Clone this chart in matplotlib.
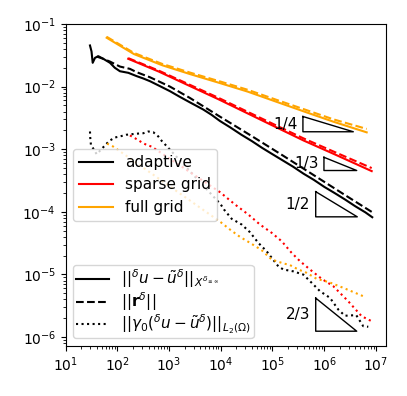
import matplotlib
matplotlib.use('Agg')
import matplotlib.pyplot as plt
from matplotlib.lines import Line2D

# adaptive (black)
n_adaptive = [29.5, 31.6, 33.3, 36.9, 42.8, 53.3, 71.9, 89.1, 112, 163, 236, 316, 427, 661,
              1040, 1585, 2512, 4571, 6607, 9661, 15140, 25120, 39810, 63100, 1.0e5,
              1.585e5, 2.512e5, 3.981e5, 6.31e5, 1.0e6, 1.585e6, 2.512e6, 3.98e6, 6.31e6, 8.51e6]
err_adaptive = [0.0454, 0.0364, 0.0240, 0.0288, 0.0306, 0.0278, 0.0240, 0.0200, 0.0176, 0.0166,
                0.0147, 0.0135, 0.0122, 0.0102, 0.00845, 0.00692, 0.00562, 0.00431, 0.00355,
                0.00282, 0.00224, 0.00170, 0.00135, 0.00105, 8.32e-4, 6.61e-4, 5.25e-4,
                4.07e-4, 3.24e-4, 2.51e-4, 2.00e-4, 1.58e-4, 1.23e-4, 9.77e-5, 8.20e-5]

n_adaptive_res = [39.8, 53.3, 71.9, 112, 175, 236, 427, 1040, 2512, 9661, 3.98e4, 1.585e5,
                  3.98e5, 1.0e6, 2.512e6, 8.51e6]
res_adaptive = [0.0302, 0.0278, 0.0251, 0.0209, 0.0192, 0.0170, 0.0141, 0.0100, 0.00661,
                0.00331, 0.00162, 7.94e-4, 4.90e-4, 3.02e-4, 1.86e-4, 9.86e-5]

n_adaptive_gam = [29.5, 29.9, 30.8, 39.8, 57.5, 69.7, 89.9, 112, 147, 234, 317, 396, 494, 618,
                  719, 871, 1995, 4467, 1.0e4, 1.153e4, 1.626e4, 2.535e4, 3.673e4, 5.309e4,
                  7.727e4, 1.294e5, 1.618e5, 2.529e5, 3.945e5, 5.728e5, 8.299e5, 1.294e6,
                  1.875e6, 2.512e6, 4.169e6, 5.70e6, 7.13e6]
gam_adaptive = [1.92e-3, 1.50e-3, 1.17e-3, 8.32e-4, 1.15e-3, 1.36e-3, 1.54e-3, 1.60e-3, 1.70e-3,
                1.77e-3, 1.80e-3, 1.92e-3, 1.87e-3, 1.60e-3, 1.36e-3, 1.15e-3, 5.50e-4, 2.69e-4,
                1.31e-4, 1.09e-4, 7.73e-5, 6.27e-5, 4.72e-5, 3.20e-5, 2.34e-5, 1.35e-5, 1.20e-5,
                1.12e-5, 9.95e-6, 7.35e-6, 5.40e-6, 4.23e-6, 2.75e-6, 2.19e-6, 2.24e-6, 1.49e-6,
                1.46e-6]

# sparse grid (red)
n_sparse = [162, 631, 2512, 8913, 31600, 1.12e5, 3.98e5, 1.58e6, 8.3e6]
err_sparse = [0.0278, 0.0174, 0.01023, 0.00631, 0.00380, 0.00229, 0.00138, 8.32e-4, 4.47e-4]
res_sparse = [0.0285, 0.0180, 0.0107, 0.00665, 0.00403, 0.00245, 0.00149, 9.05e-4, 5.00e-4]

n_sparse_gam = [175, 219, 295, 368, 460, 3162, 6166, 9661, 1.884e4, 3.404e4, 5.728e4, 9.66e4,
                1.507e5, 2.35e5, 3.404e5, 5.31e5, 8.95e5, 1.50e6, 2.92e6, 5.31e6, 8.30e6]
gam_sparse = [1.66e-3, 1.50e-3, 1.29e-3, 1.17e-3, 1.10e-3, 3.81e-4, 2.64e-4, 2.06e-4, 1.31e-4,
              9.06e-5, 6.27e-5, 4.62e-5, 3.39e-5, 2.21e-5, 1.63e-5, 1.20e-5, 8.51e-6, 6.49e-6,
              3.73e-6, 2.15e-6, 1.79e-6]

# full grid (orange)
n_full = [62, 209, 741, 2570, 9330, 33100, 117500, 417000, 1.51e6, 6.64e6]
err_full = [0.0603, 0.0331, 0.0219, 0.0158, 0.01148, 0.00832, 0.00575, 0.00398, 0.00275, 0.00186]
res_full = [0.0625, 0.0345, 0.0230, 0.0167, 0.0122, 0.00890, 0.00618, 0.00432, 0.00300, 0.00211]

n_full_gam = [63.1, 83.4, 1.0e4, 1.507e4, 2.35e4, 3.67e4, 6.18e4, 9.66e4, 1.585e5, 2.18e5,
              3.155e5, 4.59e5, 7.16e5, 1.256e6, 2.34e6, 5.70e6]
gam_full = [1.23e-3, 1.10e-3, 6.82e-5, 5.21e-5, 3.98e-5, 3.20e-5, 2.44e-5, 1.73e-5, 1.51e-5,
            1.41e-5, 1.20e-5, 1.06e-5, 8.51e-6, 7.50e-6, 6.11e-6, 4.49e-6]

# slope triangles: left x, right x, bottom y, slope, label
triangles = [(3.88e5, 3.66e6, 1.90e-3, 1 / 4, '1/4'),
             (9.9e5, 4.26e6, 4.57e-4, 1 / 3, '1/3'),
             (6.86e5, 4.37e6, 8.32e-5, 1 / 2, '1/2'),
             (6.86e5, 4.26e6, 1.24e-6, 2 / 3, '2/3')]

fig = plt.figure(figsize=(4.07, 3.96), dpi=100)
ax = fig.add_axes([0.1614, 0.1263, 0.7870, 0.8131])

lw = 1.5
ax.loglog(n_adaptive, err_adaptive, color='black', lw=lw)
ax.loglog(n_adaptive_res, res_adaptive, color='black', ls='--', lw=lw)
ax.loglog(n_adaptive_gam, gam_adaptive, color='black', ls=':', lw=lw)
ax.loglog(n_sparse, err_sparse, color='red', lw=lw)
ax.loglog(n_sparse, res_sparse, color='red', ls='--', lw=lw)
ax.loglog(n_sparse_gam, gam_sparse, color='red', ls=':', lw=lw)
ax.loglog(n_full, err_full, color='orange', lw=lw)
ax.loglog(n_full, res_full, color='orange', ls='--', lw=lw)
ax.loglog(n_full_gam, gam_full, color='orange', ls=':', lw=lw)

for x0, x1, y0, s, lab in triangles:
    y1 = y0 * (x1 / x0) ** s
    ax.plot([x0, x0, x1, x0], [y1, y0, y0, y1], color='black', lw=1.0)
    ax.annotate(lab, xy=(x0, (y0 * y1) ** 0.5), xytext=(-4, 0), textcoords='offset points',
                ha='right', va='center', fontsize=11)

ax.set_xlim(10, 1.57e7)
ax.set_ylim(7.2e-7, 0.1)

color_handles = [Line2D([], [], color='black', lw=lw),
                 Line2D([], [], color='red', lw=lw),
                 Line2D([], [], color='orange', lw=lw)]
leg1 = ax.legend(color_handles, ['adaptive', 'sparse grid', 'full grid'], loc='center left',
                 fontsize=11, handlelength=2.2)
ax.add_artist(leg1)

style_handles = [Line2D([], [], color='black', lw=lw),
                 Line2D([], [], color='black', ls='--', lw=lw),
                 Line2D([], [], color='black', ls=':', lw=lw)]
style_labels = [r'$||^\delta u - \tilde{u}^\delta||_{X^{\delta_{\leq\infty}}}$',
                r'$||\mathbf{r}^\delta||$',
                r'$||\gamma_0(^\delta u - \tilde{u}^\delta)||_{L_2(\Omega)}$']
ax.legend(style_handles, style_labels, loc='lower left', fontsize=11, labelspacing=0.0,
          borderpad=0.15, handlelength=2.2)

fig.savefig('out.png', dpi=100)
